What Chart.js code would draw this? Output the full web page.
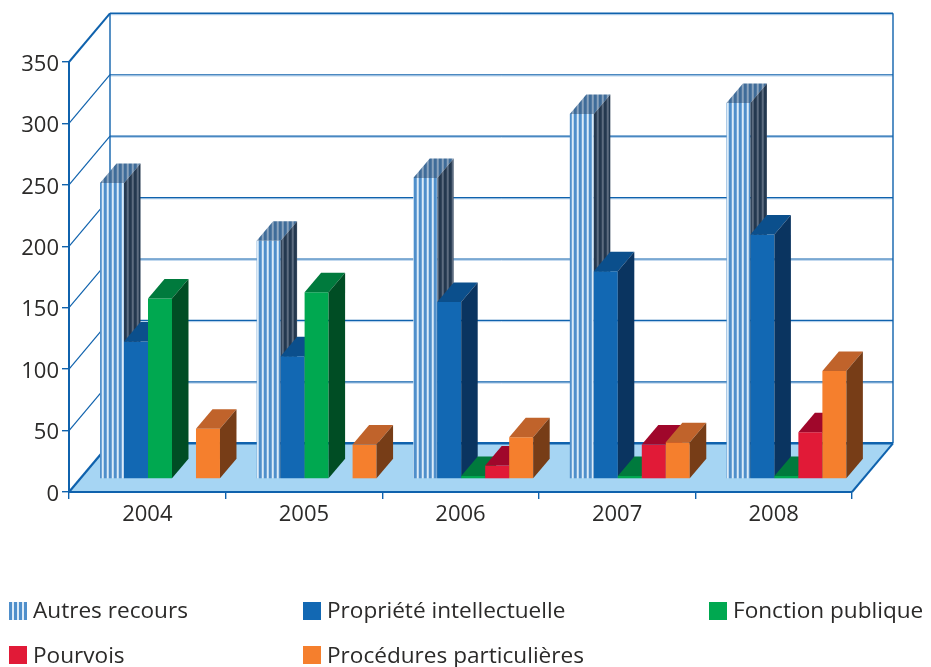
<!DOCTYPE html>
<html lang="fr"><head><meta charset="utf-8">
<style>
html,body{margin:0;padding:0;background:#fff;overflow:hidden}
#wrap{position:relative;width:931px;height:667px}
canvas{position:absolute;left:0;top:0}
.lg{position:absolute;font:22.6px "Open Sans",sans-serif;color:#2b2a29;line-height:26px;white-space:nowrap}
.sw{position:absolute;width:18px;height:18px}
</style>
</head><body>
<div id="wrap"><canvas id="c" width="931" height="667"></canvas></div>
<script src="https://cdn.jsdelivr.net/npm/chart.js@4/dist/chart.umd.min.js"></script>
<script>
const years = ['2004','2005','2006','2007','2008'];
const autresRecours = [241,194,245,297,306];
const proprieteIntellectuelle = [112,100,144,169,199];
const fonctionPublique = [147,152,2.5,2.5,2.5];
const pourvois = [0,0,11,28,38];
const proceduresParticulieres = [41,28,34,30,88];
const seriesNames = ['Autres recours','Propriété intellectuelle','Fonction publique','Pourvois','Procédures particulières'];
const yTicks = [0,50,100,150,200,250,300,350];

function stripes(bg, fg){
  const c = document.createElement('canvas'); c.width = 5; c.height = 4;
  const x = c.getContext('2d');
  x.fillStyle = bg; x.fillRect(0,0,5,4);
  x.fillStyle = fg; x.fillRect(1,0,3,4);
  return x.createPattern(c,'repeat');
}
const ctx0 = document.getElementById('c').getContext('2d');
const faces = [
  {front:stripes('#dcebf8','#4f8fcb'), top:stripes('#8aa3bd','#3f6c99'), side:stripes('#5d6c80','#24384f'), swatch:'repeating-linear-gradient(90deg,#4f8fcb 0 3px,#dcebf8 3px 5px)'},
  {front:'#1268b3', top:'#0b4f8c', side:'#0a3460'},
  {front:'#00a850', top:'#007a3d', side:'#004d24'},
  {front:'#e11a37', top:'#a0072b', side:'#6b0a1c'},
  {front:'#f57f2d', top:'#c0632b', side:'#773d17'}
];
const allSeries = [autresRecours,proprieteIntellectuelle,fonctionPublique,pourvois,proceduresParticulieres];

const BLUE='#0f62ad';
const wall={dx:41,dy:-48.7};      // depth of the chart box
const base={dx:12.7,dy:-13};      // where bars stand on the floor
const bar={dx:16.5,dy:-19.5};     // depth of each bar

function line(c,x1,y1,x2,y2,w,col){c.beginPath();c.moveTo(x1,y1);c.lineTo(x2,y2);c.lineWidth=w;c.strokeStyle=col||BLUE;c.stroke();}
function poly(c,pts,fill){c.beginPath();pts.forEach((p,i)=>i?c.lineTo(p[0],p[1]):c.moveTo(p[0],p[1]));c.closePath();c.fillStyle=fill;c.fill();}

const box3d={
  id:'box3d',
  beforeDatasetsDraw(chart){
    const c=chart.ctx,{left,right,bottom}=chart.chartArea,y=chart.scales.y;
    c.save();
    poly(c,[[left,bottom],[right,bottom],[right+wall.dx,bottom+wall.dy],[left+wall.dx,bottom+wall.dy]],'#a6d5f3');
    yTicks.forEach(v=>{
      const p=y.getPixelForValue(v);
      if(v>0 && v<350){
        line(c,left+wall.dx,p+wall.dy+1.2,right+wall.dx,p+wall.dy+1.2,1,'#a9c9e8');
        line(c,left+wall.dx,p+wall.dy,right+wall.dx,p+wall.dy,1.2);
        line(c,left,p,left+wall.dx,p+wall.dy,1.2);
      }
    });
    const t=y.getPixelForValue(350);
    line(c,left,t,left+wall.dx,t+wall.dy,2);
    line(c,left+wall.dx,t+wall.dy,right+wall.dx,t+wall.dy,1.8);
    line(c,left+wall.dx,t+wall.dy+1.4,right+wall.dx,t+wall.dy+1.4,1,'#a9c9e8');
    line(c,left+wall.dx,t+wall.dy,left+wall.dx,bottom+wall.dy,1.4);
    line(c,right+wall.dx,t+wall.dy,right+wall.dx,bottom+wall.dy,1.4);
    line(c,left+wall.dx,bottom+wall.dy,right+wall.dx,bottom+wall.dy,2.4);
    line(c,left,bottom,left+wall.dx,bottom+wall.dy,2.2);
    line(c,right,bottom,right+wall.dx,bottom+wall.dy,2);
    line(c,left,t,left,bottom,2);
    line(c,left,bottom,right,bottom,2.2);
    // bars are painted left to right so that each one covers its neighbour's side face
    c.translate(base.dx,base.dy);
    chart.data.datasets.forEach((ds,di)=>{
      const meta=chart.getDatasetMeta(di),f=faces[di];
      meta.controller.draw();
      meta.data.forEach((el,i)=>{
        if(!ds.data[i])return;
        const {x,y:vy,base:b,width:w}=el.getProps(['x','y','base','width'],true);
        const l=x-w/2,r=x+w/2;
        poly(c,[[l,vy],[r,vy],[r+bar.dx,vy+bar.dy],[l+bar.dx,vy+bar.dy]],f.top);
        poly(c,[[r,vy],[r,b],[r+bar.dx,b+bar.dy],[r+bar.dx,vy+bar.dy]],f.side);
      });
    });
    c.restore();
  },
  beforeDatasetDraw(){return false;}
};

function nudgeLabels(s,dy){
  if(s._nudged)return; s._nudged=true;
  const orig=s.drawLabels;
  s.drawLabels=function(a){const c=this.ctx;c.save();c.translate(0,dy);orig.call(this,a);c.restore();};
}

new Chart(ctx0,{
  type:'bar',
  data:{labels:years,datasets:allSeries.map((d,i)=>({
    label:seriesNames[i],data:d,backgroundColor:faces[i].front,borderWidth:0,
    barPercentage:1,categoryPercentage:0.766
  }))},
  plugins:[box3d],
  options:{
    responsive:false,animation:false,
    layout:{padding:{top:62,right:79,left:0,bottom:0}},
    plugins:{legend:{display:false},tooltip:{enabled:false}},
    scales:{
      x:{
        afterFit(s){s.height=667-492;},
        grid:{drawOnChartArea:false,color:BLUE,lineWidth:1.4,tickLength:7,drawTicks:true},
        border:{display:false},
        ticks:{color:'#2b2a29',font:{family:'"Open Sans"',size:22},padding:3,maxRotation:0}
      },
      y:{
        min:0,max:350,
        afterFit(s){s.width=69;},
        afterBuildTicks(s){s.ticks=yTicks.map(v=>({value:v}));},
        afterUpdate(s){nudgeLabels(s,2.5);},
        grid:{drawOnChartArea:false,color:BLUE,lineWidth:1.4,tickLength:7},
        border:{display:false},
        ticks:{color:'#2b2a29',font:{family:'"Open Sans"',size:22},padding:3}
      }
    }
  }
});

const wrap=document.getElementById('wrap');
const legendPos=[[9,597,33],[303,597,327],[709,597,733],[9,642,33],[303,642,327]];
seriesNames.forEach((n,i)=>{
  const [sx,sy,tx]=legendPos[i];
  const s=document.createElement('div');s.className='sw';s.style.left=sx+'px';s.style.top=(sy+5-(i>2?1:0))+'px';
  s.style.background=faces[i].swatch||faces[i].front;wrap.appendChild(s);
  const t=document.createElement('div');t.className='lg';t.style.left=tx+'px';t.style.top=sy+'px';t.textContent=n;wrap.appendChild(t);
});
</script>
</body></html>
